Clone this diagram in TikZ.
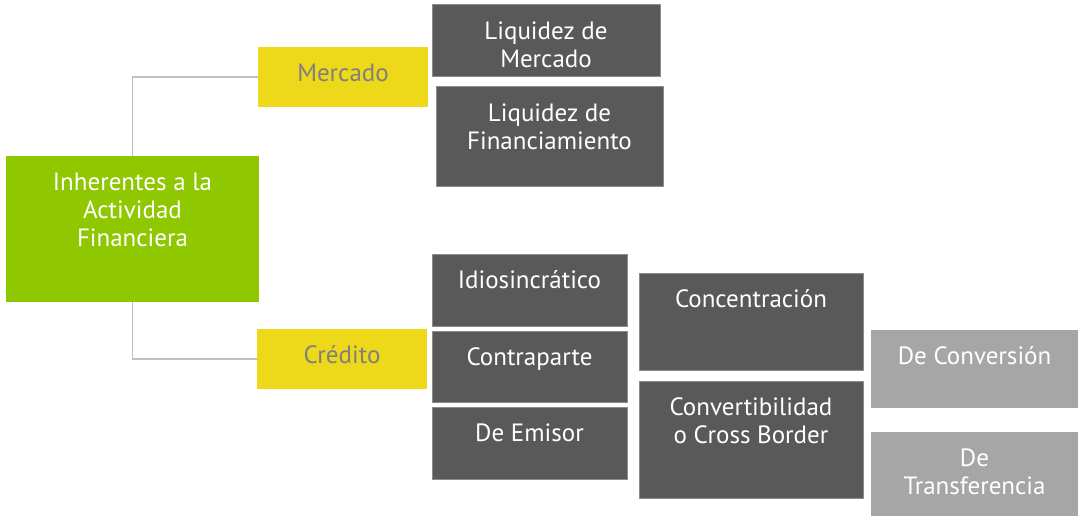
\documentclass[tikz,border=0pt]{standalone}
\usepackage{fontspec}
\setmainfont{PT Sans}
\definecolor{cgreen}{HTML}{8FC700}
\definecolor{cyellow}{HTML}{EED81A}
\definecolor{cdark}{HTML}{595959}
\definecolor{cdarkline}{HTML}{8C8C8C}
\definecolor{clight}{HTML}{A6A6A6}
\definecolor{cline}{HTML}{BFBFBF}
\definecolor{cytext}{HTML}{7F7F7F}
\tikzset{
  x=1pt,y=-1pt,
  box/.style={rectangle, inner sep=0pt, outer sep=0pt},
  greenbox/.style={box, fill=cgreen},
  yellowbox/.style={box, fill=cyellow},
  darkbox/.style={box, fill=cdark, draw=cdarkline, line width=1pt},
  lightbox/.style={box, fill=clight},
  txt/.style={anchor=north, inner sep=0pt, align=center, text=white,
    font=\fontsize{25}{28}\selectfont, yshift=-1pt},
  ytxt/.style={txt, text=cytext},
  conn/.style={draw=cline, line width=1.5pt}
}
\begin{document}
\begin{tikzpicture}
\useasboundingbox (0,0) rectangle (1078,516);
% boxes
\node[greenbox, minimum width=253pt, minimum height=146pt] (inh) at (132.5,229) {};
\node[txt] (inht) at (132.5,170) {\strut Inherentes a la\\Actividad\\Financiera};

\node[yellowbox, minimum width=170pt, minimum height=60pt] (mer) at (343,77) {};
\node[ytxt] (mert) at (343,61) {\strut Mercado};
\node[yellowbox, minimum width=170pt, minimum height=60pt] (cre) at (342,359) {};
\node[ytxt] (cret) at (342,343) {\strut Crédito};

\node[darkbox, minimum width=228pt, minimum height=72pt] (lm) at (546,41) {};
\node[txt] (lmt) at (546,19) {\strut Liquidez de\\Mercado};
\node[darkbox, minimum width=227pt, minimum height=99pt] (lf) at (549.5,136.5) {};
\node[txt] (lft) at (549.5,101) {\strut Liquidez de\\Financiamiento};

\node[darkbox, minimum width=195pt, minimum height=72pt] (idi) at (529.5,290) {};
\node[txt] (idit) at (529.5,268) {\strut Idiosincrático};
\node[darkbox, minimum width=195pt, minimum height=71pt] (con) at (529.5,366.5) {};
\node[txt] (cont) at (529.5,345) {\strut Contraparte};
\node[darkbox, minimum width=195pt, minimum height=72pt] (emi) at (529.5,443) {};
\node[txt] (emit) at (529.5,421) {\strut De Emisor};

\node[darkbox, minimum width=224pt, minimum height=97pt] (cnc) at (751,321.5) {};
\node[txt] (cnct) at (751,287) {\strut Concentración};
\node[darkbox, minimum width=224pt, minimum height=117pt] (cvb) at (751,439.5) {};
\node[txt] (cvbt) at (751,395) {\strut Convertibilidad\\o Cross Border};

\node[lightbox, minimum width=207pt, minimum height=78pt] (dcv) at (974.5,369) {};
\node[txt] (dcvt) at (974.5,344) {\strut De Conversión};
\node[lightbox, minimum width=207pt, minimum height=84pt] (dtr) at (974.5,474) {};
\node[txt] (dtrt) at (974.5,446) {\strut De\\Transferencia};

% connectors
\draw[conn] (inh.north) |- (mer.west);
\draw[conn] (inh.south) |- (cre.west);
\end{tikzpicture}
\end{document}
